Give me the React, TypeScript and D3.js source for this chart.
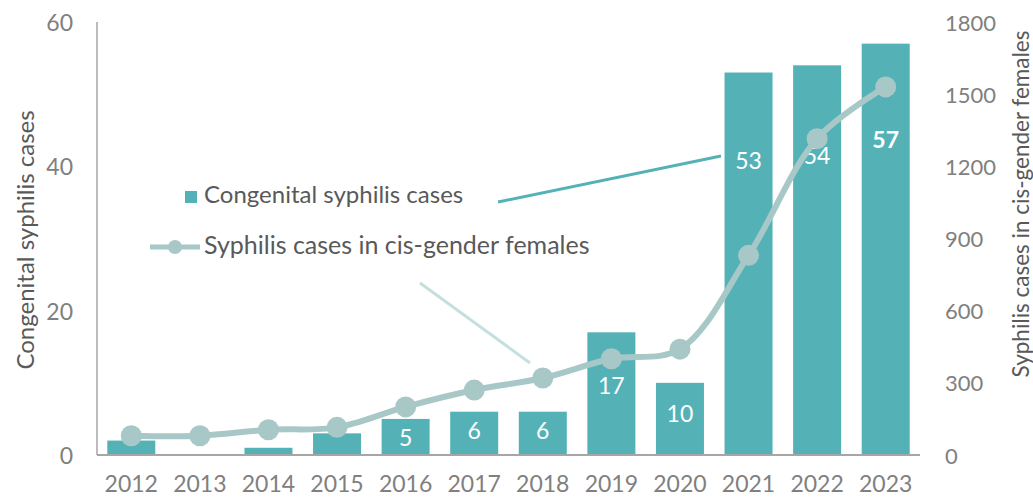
import React from "react";
import * as d3 from "d3";

// data
const years = ["2012", "2013", "2014", "2015", "2016", "2017", "2018", "2019", "2020", "2021", "2022", "2023"];
const congenitalCases = [2, 0, 1, 3, 5, 6, 6, 17, 10, 53, 54, 57];
const femaleCases = [80, 80, 105, 115, 200, 270, 320, 400, 440, 830, 1315, 1530];
const shownLabels = [null, null, null, null, "5", "6", "6", "17", "10", "53", "54", "57"];
const labelLevel = [0, 0, 0, 0, 2.5, 3.5, 3.5, 9.7, 5.8, 40.9, 41.6, 43.8]; // where each label sits, in left-axis units
const leftTicks = [0, 20, 40, 60];
const rightTicks = [0, 300, 600, 900, 1200, 1500, 1800];

const W = 1033;
const H = 499;
const margin = { top: 22, right: 113, bottom: 44, left: 97 };

const barColor = "#54b2b7";
const lineColor = "#a8c8c8";
const tickColor = "#808080";
const textColor = "#595959";
const font = "Lato, 'Open Sans', sans-serif";

const App = () => {
  const x = d3
    .scaleBand()
    .domain(years)
    .range([margin.left, W - margin.right])
    .paddingInner(0.3)
    .paddingOuter(0.15);

  const yLeft = d3.scaleLinear().domain([0, 60]).range([H - margin.bottom, margin.top]);
  const yRight = d3.scaleLinear().domain([0, 1800]).range([H - margin.bottom, margin.top]);

  const line = d3
    .line<number>()
    .x((d, i) => x(years[i])! + x.bandwidth() / 2)
    .y((d) => yRight(d))
    .curve(d3.curveCatmullRom.alpha(0.5));

  const base = yLeft(0);

  return (
    <svg width={W} height={H} style={{ position: "absolute", left: 0, top: 0, fontFamily: font }}>
      {/* bars */}
      {congenitalCases.map((v, i) => (
        <rect
          key={years[i]}
          x={x(years[i])}
          y={yLeft(v)}
          width={x.bandwidth()}
          height={base - yLeft(v)}
          fill={barColor}
        />
      ))}

      {/* axes lines */}
      <line x1={margin.left} x2={margin.left} y1={margin.top} y2={base} stroke="#a6a6a6" strokeWidth={1.5} />
      <line x1={margin.left} x2={W - margin.right} y1={base} y2={base} stroke="#a6a6a6" strokeWidth={2} />

      {/* bar labels */}
      {shownLabels.map((t, i) =>
        t ? (
          <text
            key={"l" + i}
            x={x(years[i])! + x.bandwidth() / 2}
            y={yLeft(labelLevel[i])}
            dominantBaseline="central"
            textAnchor="middle"
            fill="white"
            fontSize={23}
            fontWeight={i === years.length - 1 ? "bold" : "normal"}
          >
            {t}
          </text>
        ) : null
      )}

      {/* leader lines from legend */}
      <line x1={498} y1={202} x2={721} y2={156} stroke={barColor} strokeWidth={3} />
      <line x1={420} y1={283} x2={530} y2={363} stroke="#c5dfdf" strokeWidth={3} />

      {/* female cases line */}
      <path d={line(femaleCases) ?? ""} fill="none" stroke={lineColor} strokeWidth={6} />
      {femaleCases.map((v, i) => (
        <circle key={"c" + i} cx={x(years[i])! + x.bandwidth() / 2} cy={yRight(v)} r={10.5} fill={lineColor} />
      ))}

      {/* left ticks */}
      {leftTicks.map((t) => (
        <text key={"lt" + t} x={73} y={yLeft(t)} dominantBaseline="central" textAnchor="end" fill={tickColor} fontSize={23}>
          {t}
        </text>
      ))}
      {/* right ticks */}
      {rightTicks.map((t) => (
        <text key={"rt" + t} x={945} y={yRight(t)} dominantBaseline="central" textAnchor="start" fill={tickColor} fontSize={22}>
          {t}
        </text>
      ))}
      {/* x ticks */}
      {years.map((yr) => (
        <text key={"x" + yr} x={x(yr)! + x.bandwidth() / 2} y={492} textAnchor="middle" fill={tickColor} fontSize={23}>
          {yr}
        </text>
      ))}

      {/* axis titles */}
      <text
        transform={`translate(24, 240) rotate(-90)`}
        textAnchor="middle"
        dominantBaseline="central"
        fill={textColor}
        fontSize={24}
      >
        Congenital syphilis cases
      </text>
      <text
        transform={`translate(1020, 204) rotate(-90)`}
        textAnchor="middle"
        dominantBaseline="central"
        fill={textColor}
        fontSize={22.5}
      >
        Syphilis cases in cis-gender females
      </text>

      {/* legend */}
      <rect x={185} y={191} width={12} height={12} fill={barColor} />
      <text x={204} y={203} fill={textColor} fontSize={24}>
        Congenital syphilis cases
      </text>
      <line x1={150} x2={200} y1={247} y2={247} stroke={lineColor} strokeWidth={5} />
      <circle cx={175} cy={247} r={7} fill={lineColor} />
      <text x={204} y={254} fill={textColor} fontSize={25}>
        Syphilis cases in cis-gender females
      </text>
    </svg>
  );
};

export default App;
